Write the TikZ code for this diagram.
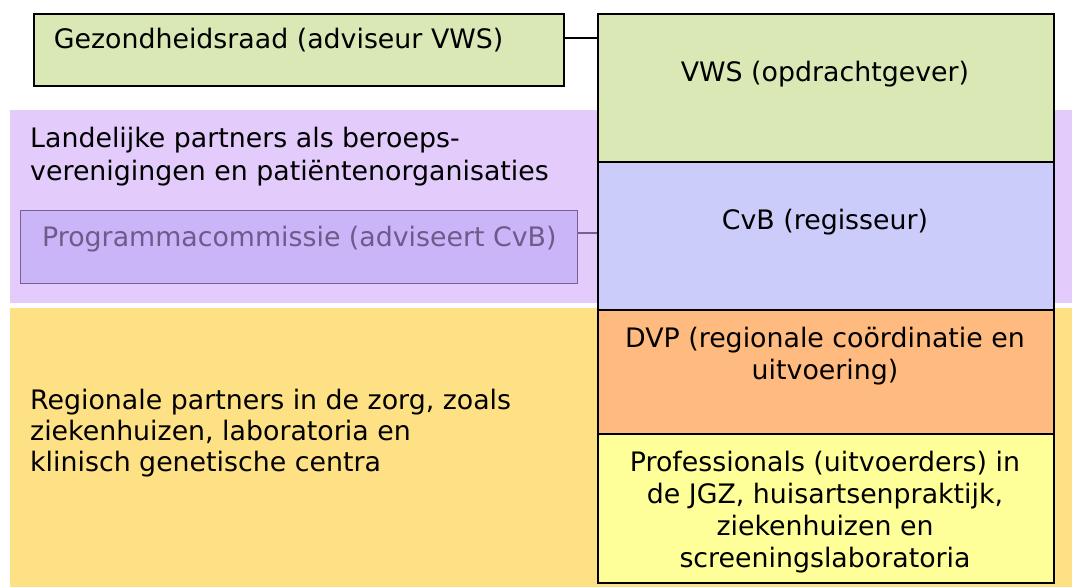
\documentclass[tikz,border=0pt]{standalone}
\usepackage{fontspec}
\setmainfont{DejaVu Sans}
\definecolor{cgreen}{RGB}{217,232,181}
\definecolor{cband}{RGB}{227,204,251}
\definecolor{cprog}{RGB}{203,181,249}
\definecolor{cprogline}{RGB}{120,96,150}
\definecolor{cprogtext}{RGB}{111,90,138}
\definecolor{cblue}{RGB}{204,204,251}
\definecolor{corange}{RGB}{255,187,127}
\definecolor{clight}{RGB}{255,255,153}
\definecolor{cyband}{RGB}{253,225,132}
\tikzset{
  box/.style={draw=black, line width=1.8pt, inner sep=0pt},
  txt/.style={font=\fontsize{26.8}{32}\selectfont, inner sep=0pt},
}
\begin{document}
\begin{tikzpicture}[x=1pt,y=-1pt]
\useasboundingbox (0,0) rectangle (1072,587);
% bands
\fill[cband] (9.6,110) rectangle (1072,303);
\fill[cyband] (9.6,308) rectangle (1072,587);
% left boxes
\node[box, fill=cgreen, minimum width=530pt, minimum height=72pt, anchor=north west] (gez) at (33,13) {};
\node[box, draw=cprogline, line width=1.3pt, fill=cprog, minimum width=557pt, minimum height=73pt, anchor=north west] (prog) at (20,210) {};
% right stack
\node[box, fill=cgreen, minimum width=456pt, minimum height=148pt, anchor=north west] (vws) at (597,13) {};
\node[box, fill=cblue, minimum width=456pt, minimum height=148pt, anchor=north west] (cvb) at (597,161) {};
\node[box, fill=corange, minimum width=456pt, minimum height=124pt, anchor=north west] (dvp) at (597,309) {};
\node[box, fill=clight, minimum width=456pt, minimum height=149pt, anchor=north west] (prof) at (597,433) {};
% connectors
\draw[line width=1.6pt] (gez.east |- 0,38) -- (vws.west |- 0,38);
\draw[line width=1.5pt, draw=cprogline] (prog.east |- 0,233) -- (cvb.west |- 0,233);
% texts
\node[txt, anchor=base west] (tgez) at (53.6,48.5) {Gezondheidsraad (adviseur VWS)};
\node[txt, anchor=base west, text=cprogtext] (tprog) at (42,246.5) {Programmacommissie (adviseert CvB)};
\node[txt, anchor=base] (tvws) at (825,81.5) {VWS (opdrachtgever)};
\node[txt, anchor=base] (tcvb) at (825,229.5) {CvB (regisseur)};
\node[txt, align=center, anchor=north] (tdvp) at (825,324.6) {\strut DVP (regionale coördinatie en\\uitvoering)};
\node[txt, align=center, anchor=north] (tprof) at (825,448.6) {\strut Professionals (uitvoerders) in\\de JGZ, huisartsenpraktijk,\\ziekenhuizen en\\screeningslaboratoria};
\node[txt, font=\fontsize{26.8}{33.5}\selectfont, align=left, anchor=north west] (tland) at (30,123.5) {\strut Landelijke partners als beroeps-\\verenigingen en patiëntenorganisaties};
\node[txt, font=\fontsize{26.8}{31}\selectfont, align=left, anchor=north west] (treg) at (30,387.3) {\strut Regionale partners in de zorg, zoals\\ziekenhuizen, laboratoria en\\klinisch genetische centra};
\end{tikzpicture}
\end{document}
